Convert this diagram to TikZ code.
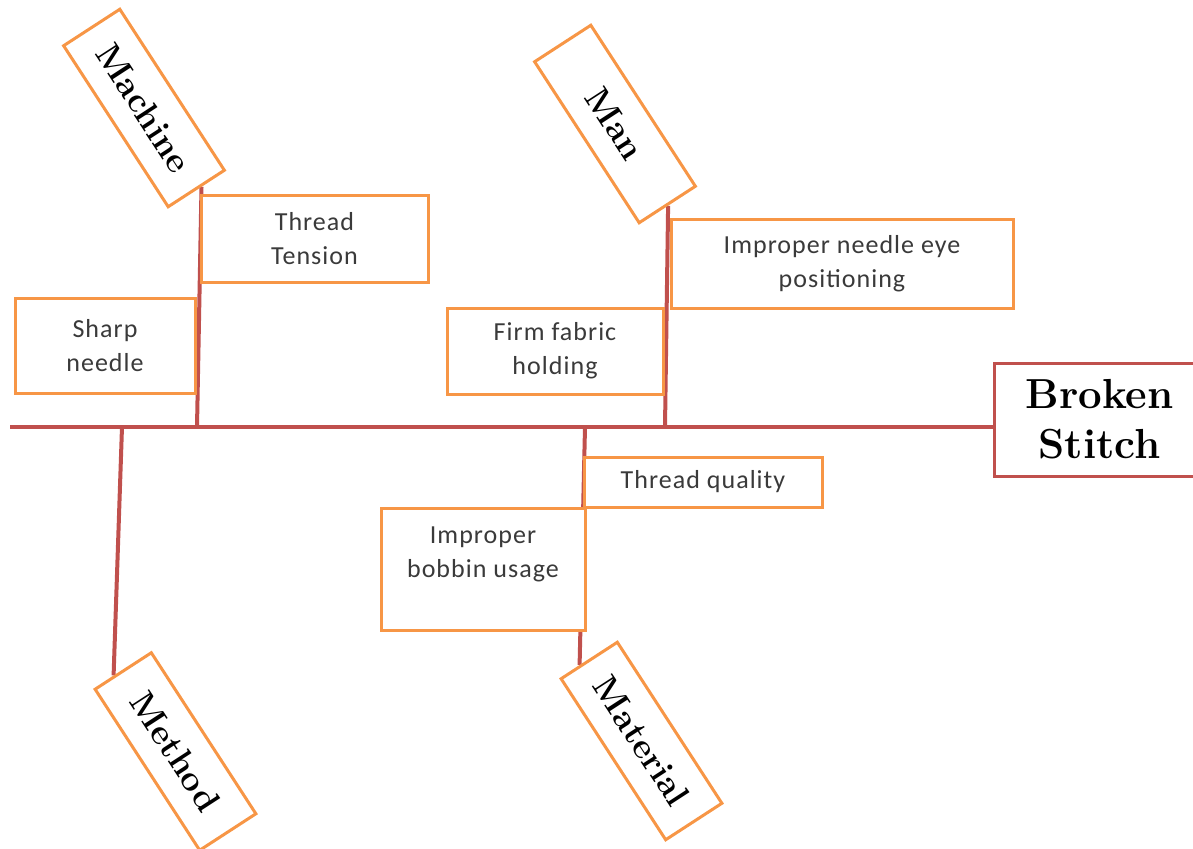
\documentclass[tikz,border=0pt]{standalone}
\usepackage{fontspec}
\newfontfamily\calib[LetterSpace=4]{Carlito}
\usetikzlibrary{calc,backgrounds}
\definecolor{bonered}{HTML}{C0504D}
\definecolor{boxorange}{HTML}{F79646}
\definecolor{txtgray}{HTML}{3A3A3A}
\begin{document}
\begin{tikzpicture}[x=1pt,y=-1pt,
  catbox/.style={draw=boxorange,line width=3pt,fill=white,minimum width=192pt,minimum height=67pt,inner sep=0pt,rotate=-57,font=\fontsize{35}{40}\selectfont\bfseries},
  causebox/.style={draw=boxorange,line width=3pt,fill=white,align=center,inner sep=0pt,text=txtgray,font=\calib\fontsize{26}{34}\selectfont},
  bonel/.style={draw=bonered,line width=4pt},
  effectbox/.style={draw=bonered,line width=3pt,fill=white,inner sep=0pt,align=center,text width=210pt,minimum height=113pt,anchor=west,font=\fontsize{42}{50}\selectfont\bfseries}]
\useasboundingbox (0,0) rectangle (1193,848);
\clip (0,0) rectangle (1193,848);

% effect
\node[effectbox] (bs) at (993,419.5) {Broken\\Stitch};

% categories
\node[catbox] (mach) at (144,108) {Machine};
\node[catbox] (man) at (615,124) {Man};
\node[catbox] (meth) at (175.5,751.5) {Method};
\node[catbox] (mat) at (641.5,741) {Material};

% causes
\node[causebox,minimum width=227pt,minimum height=87pt] (tt) at (314.5,238.5) {Thread\\Tension};
\node[causebox,minimum width=180pt,minimum height=95pt] (sn) at (105,345.5) {Sharp\\needle};
\node[causebox,minimum width=342pt,minimum height=89pt] (ine) at (842,263.5) {Improper needle eye\\positioning};
\node[causebox,minimum width=216pt,minimum height=86pt] (ffh) at (555,351) {Firm fabric\\holding};
\node[causebox,minimum width=238pt,minimum height=50pt] (tq) at (703,482) {Thread quality};
\node[causebox,minimum width=204pt,minimum height=122pt] (ibu) at (483,569) {Improper\\bobbin usage\\\mbox{}};

% spine and bones
\coordinate (tail) at (10,427);
\coordinate (jmach) at (197,427);
\coordinate (jman) at (665,427);
\coordinate (jmeth) at (122,427);
\coordinate (jmat) at (585,427);
\begin{scope}[on background layer]
  \draw[bonel] (tail) -- (tail -| bs.west);
  \draw[bonel] (jmach) -- ($(mach.east)!0.15!(mach.north east)$);
  \draw[bonel] (jman) -- (man.east);
  \draw[bonel] (jmeth) -- ($(meth.west)!0.3!(meth.south west)$);
  \draw[bonel] (jmat) -- ($(mat.west)!0.3!(mat.south west)$);
\end{scope}
\end{tikzpicture}
\end{document}
